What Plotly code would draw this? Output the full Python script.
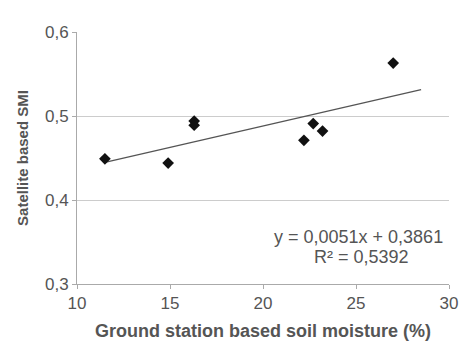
import plotly.graph_objects as go

# Data
soil_moisture = [11.5, 14.9, 16.3, 16.3, 22.2, 22.7, 23.2, 27.0]
smi = [0.449, 0.444, 0.494, 0.489, 0.471, 0.491, 0.482, 0.563]
slope = 0.0051
intercept = 0.3861
r2 = 0.5392
trend_x = [min(soil_moisture), 28.5]
trend_y = [slope * v + intercept for v in trend_x]

x_ticks = [10, 15, 20, 25, 30]
y_ticks = [0.3, 0.4, 0.5, 0.6]
y_tick_text = ["0,3", "0,4", "0,5", "0,6"]

FONT = "Liberation Sans, Arial, sans-serif"
TXT = "#555555"

fig = go.Figure()
fig.add_trace(go.Scatter(x=trend_x, y=trend_y, mode="lines",
                         line=dict(color="#555555", width=1.3), showlegend=False))
fig.add_trace(go.Scatter(x=soil_moisture, y=smi, mode="markers",
                         marker=dict(symbol="diamond", size=9, color="#111111"),
                         showlegend=False))

fig.add_annotation(x=0.99, y=0.356, xref="paper", yref="y", xanchor="right",
                   text="y = 0,0051x + 0,3861", showarrow=False,
                   font=dict(family=FONT, size=18, color=TXT))
fig.add_annotation(x=0.765, y=0.332, xref="paper", yref="y", xanchor="center",
                   text="R² = 0,5392", showarrow=False,
                   font=dict(family=FONT, size=18, color=TXT))

# the page body adds an 8px offset at top/left, so the figure is 8px smaller
fig.update_layout(
    width=462, height=342,
    margin=dict(l=69, r=17, t=24, b=66),
    paper_bgcolor="white", plot_bgcolor="white",
    font=dict(family=FONT, size=17, color=TXT),
    xaxis=dict(range=[10, 30], tickvals=x_ticks, showgrid=False,
               showline=True, linecolor="#aaaaaa", linewidth=1,
               ticks="outside", ticklen=4, tickcolor="#aaaaaa",
               zeroline=False, tickfont=dict(size=17),
               ticklabeloverflow="allow",
               title=dict(text="<b>Ground station based soil moisture (%)</b>",
                          standoff=11, font=dict(size=18, color=TXT))),
    yaxis=dict(range=[0.3, 0.6], tickvals=y_ticks, ticktext=y_tick_text,
               showgrid=True, gridcolor="#cccccc", gridwidth=1,
               showline=True, linecolor="#aaaaaa", linewidth=1,
               ticks="outside", ticklen=4, tickcolor="#aaaaaa",
               zeroline=False, tickfont=dict(size=17),
               title=dict(text="<b>Satellite based SMI</b>", standoff=12,
                          font=dict(size=15, color=TXT))),
)

fig.write_html("out.html")
